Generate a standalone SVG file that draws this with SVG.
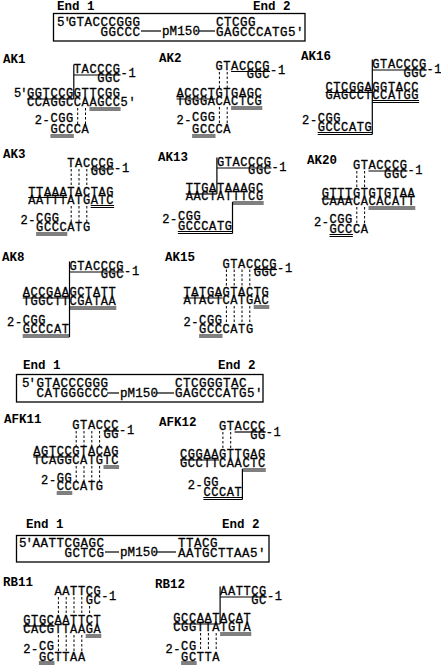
<svg xmlns="http://www.w3.org/2000/svg" width="441" height="665" viewBox="0 0 441 665">
<style>
text{font-family:"Liberation Mono","DejaVu Sans Mono",monospace;fill:#000}
.s{font-size:12px;letter-spacing:0.6px;stroke:#000;stroke-width:0.3px}
.bx{font-size:12.5px;letter-spacing:0.5px;stroke:#000;stroke-width:0.3px}
.pm{font-size:12.5px;letter-spacing:0.1px;stroke:#000;stroke-width:0.3px}
.lb{font-size:12.5px;font-weight:bold}
.p5{letter-spacing:-1px}
.u{stroke:#000;stroke-width:1.2}
.w{stroke:#000;stroke-width:1}
.d{stroke:#000;stroke-width:1;stroke-dasharray:2.5 2}
.v{stroke:#000;stroke-width:1.2}
.box{fill:none;stroke:#000;stroke-width:1.3}
</style>
<rect width="441" height="665" fill="#fff"/>

<g id="box1">
<text class="lb" x="57" y="10">End 1</text>
<text class="lb" x="253" y="10">End 2</text>
<rect class="box" x="53.5" y="13.5" width="251.5" height="27.5"/>
<text class="bx p5" x="57" y="26">5'</text>
<text class="bx" x="68.5" y="26">GTACCCGGG</text>
<text class="bx" x="100.5" y="36">GGCCC</text>
<text class="pm" x="162" y="35">pM150</text>
<text class="bx" x="216" y="26">CTCGG</text>
<text class="bx" x="216" y="36">GAGCCCATG5'</text>
<g class="connectors"><line class="u" x1="141" y1="31" x2="161" y2="31"/><line class="u" x1="199" y1="31" x2="215" y2="31"/></g>
</g>

<g id="ak1">
<text class="lb" x="3" y="63">AK1</text>
<text class="s" x="73.8" y="73">TACCCG</text>
<text class="s" x="97.2" y="81.5">GGC</text>
<text class="s" x="120.6" y="77">-1</text>
<text class="s p5" x="14" y="97">5'</text>
<text class="s" x="27" y="97">GGTCCGGTTCGG</text>
<text class="s" x="27" y="106">CCAGGCCAAGCC5'</text>
<text class="s" x="34.8" y="124">2-</text>
<text class="s" x="50.4" y="121.5">CGG</text>
<text class="s" x="50.4" y="133">GCCCA</text>
<g class="connectors">
<line class="u" x1="73.8" y1="75" x2="120.6" y2="75"/>
<line class="u" x1="27" y1="99" x2="73.8" y2="99"/>
<line class="w" x1="89.4" y1="108" x2="120.6" y2="108"/><line class="w" x1="89.4" y1="110" x2="120.6" y2="110"/>
<line class="w" x1="50.4" y1="135" x2="73.8" y2="135"/><line class="w" x1="50.4" y1="137" x2="73.8" y2="137"/>
<line class="v" x1="73.8" y1="64.5" x2="73.8" y2="99"/>
<line class="d" x1="77.7" y1="108" x2="77.7" y2="125"/><line class="d" x1="85.5" y1="108" x2="85.5" y2="125"/>
</g>
</g>

<g id="ak2">
<text class="lb" x="159" y="62">AK2</text>
<text class="s" x="215.5" y="69.5">GTACCCG</text>
<text class="s" x="246.7" y="77.5">GGC</text>
<text class="s" x="270.1" y="73.5">-1</text>
<text class="s" x="176.5" y="97">ACCCTGTGAGC</text>
<text class="s" x="176.5" y="105">TGGGACACTCG</text>
<text class="s" x="176.5" y="124">2-</text>
<text class="s" x="192.1" y="121">CGG</text>
<text class="s" x="192.1" y="133">GCCCA</text>
<g class="connectors">
<line class="u" x1="231.1" y1="71.5" x2="270.1" y2="71.5"/>
<line class="u" x1="176.5" y1="99" x2="215.5" y2="99"/>
<line class="w" x1="231.1" y1="107" x2="262.3" y2="107"/><line class="w" x1="231.1" y1="109" x2="262.3" y2="109"/>
<line class="w" x1="192.1" y1="135" x2="215.5" y2="135"/><line class="w" x1="192.1" y1="137" x2="215.5" y2="137"/>
<line class="d" x1="219.4" y1="72" x2="219.4" y2="88"/><line class="d" x1="227.2" y1="72" x2="227.2" y2="88"/>
<line class="d" x1="219.4" y1="107" x2="219.4" y2="124"/><line class="d" x1="227.2" y1="107" x2="227.2" y2="124"/>
</g>
</g>

<g id="ak16">
<text class="lb" x="301" y="60">AK16</text>
<text class="s" x="372.3" y="68">GTACCCG</text>
<text class="s" x="403.5" y="76.5">GGC</text>
<text class="s" x="426.5" y="72.5">-1</text>
<text class="s" x="325.5" y="90.5">CTCGGAGGTACC</text>
<text class="s" x="325.5" y="98.5">GAGCCTCCATGG</text>
<text class="s" x="302.1" y="124">2-</text>
<text class="s" x="317.7" y="121.5">CGG</text>
<text class="s" x="317.7" y="130.5">GCCCATG</text>
<g class="connectors">
<line class="u" x1="372.3" y1="70" x2="426.9" y2="70"/>
<line class="u" x1="325.5" y1="92.5" x2="372.3" y2="92.5"/>
<line class="w" x1="372.3" y1="100.5" x2="419.1" y2="100.5"/><line class="w" x1="372.3" y1="102.5" x2="419.1" y2="102.5"/>
<line class="w" x1="317.7" y1="132.5" x2="372.3" y2="132.5"/><line class="w" x1="317.7" y1="134.5" x2="372.3" y2="134.5"/>
<line class="v" x1="372.3" y1="59.5" x2="372.3" y2="134.5"/>
</g>
</g>

<g id="ak3">
<text class="lb" x="3" y="158">AK3</text>
<text class="s" x="67.3" y="167">TACCCG</text>
<text class="s" x="90.7" y="175">GGC</text>
<text class="s" x="114.1" y="171.5">-1</text>
<text class="s" x="28.3" y="195.5">TTAAATACTAG</text>
<text class="s" x="28.3" y="203.5">AATTTATGATC</text>
<text class="s" x="20.5" y="224">2-</text>
<text class="s" x="36.1" y="221.5">CGG</text>
<text class="s" x="36.1" y="231">GCCCATG</text>
<g class="connectors">
<line class="u" x1="90.7" y1="169" x2="114.1" y2="169"/>
<line class="u" x1="28.3" y1="197.5" x2="67.3" y2="197.5"/>
<line class="w" x1="90.7" y1="205.5" x2="114.1" y2="205.5"/><line class="w" x1="90.7" y1="207.5" x2="114.1" y2="207.5"/>
<line class="w" x1="36.1" y1="233" x2="67.3" y2="233"/><line class="w" x1="36.1" y1="235" x2="67.3" y2="235"/>
<line class="d" x1="71.2" y1="169" x2="71.2" y2="187"/><line class="d" x1="79" y1="169" x2="79" y2="187"/><line class="d" x1="86.8" y1="169" x2="86.8" y2="187"/>
<line class="d" x1="71.2" y1="206" x2="71.2" y2="222"/><line class="d" x1="79" y1="206" x2="79" y2="222"/><line class="d" x1="86.8" y1="206" x2="86.8" y2="222"/>
</g>
</g>

<g id="ak13">
<text class="lb" x="158" y="161">AK13</text>
<text class="s" x="216.9" y="166">GTACCCG</text>
<text class="s" x="248.1" y="174">GGC</text>
<text class="s" x="271.5" y="170.5">-1</text>
<text class="s" x="185.7" y="192">TTGATAAAGC</text>
<text class="s" x="185.7" y="200">AACTATTTCG</text>
<text class="s" x="162.3" y="223">2-</text>
<text class="s" x="177.9" y="220">CGG</text>
<text class="s" x="177.9" y="229.5">GCCCATG</text>
<g class="connectors">
<line class="u" x1="216.9" y1="168" x2="271.5" y2="168"/>
<line class="u" x1="185.7" y1="194" x2="216.9" y2="194"/>
<line class="w" x1="232.5" y1="202" x2="263.7" y2="202"/><line class="w" x1="232.5" y1="204" x2="263.7" y2="204"/>
<line class="w" x1="177.9" y1="231.5" x2="232.5" y2="231.5"/><line class="w" x1="177.9" y1="233.5" x2="232.5" y2="233.5"/>
<line class="v" x1="216.9" y1="157.5" x2="216.9" y2="194"/>
<line class="v" x1="232.5" y1="202" x2="232.5" y2="233.5"/>
</g>
</g>

<g id="ak20">
<text class="lb" x="307" y="164">AK20</text>
<text class="s" x="352.9" y="169">GTACCCG</text>
<text class="s" x="384.1" y="177.5">GGC</text>
<text class="s" x="407.5" y="174">-1</text>
<text class="s" x="321.7" y="197">GTTTGTGTGTAA</text>
<text class="s" x="321.7" y="205">CAAACACACATT</text>
<text class="s" x="313.9" y="225.5">2-</text>
<text class="s" x="329.5" y="222.5">CGG</text>
<text class="s" x="329.5" y="232.5">GCCCA</text>
<g class="connectors">
<line class="u" x1="368.5" y1="171" x2="407.5" y2="171"/>
<line class="u" x1="321.7" y1="199" x2="352.9" y2="199"/>
<line class="w" x1="368.5" y1="207" x2="415.3" y2="207"/><line class="w" x1="368.5" y1="209" x2="415.3" y2="209"/>
<line class="w" x1="329.5" y1="234.5" x2="352.9" y2="234.5"/><line class="w" x1="329.5" y1="236.5" x2="352.9" y2="236.5"/>
<line class="d" x1="356.8" y1="171" x2="356.8" y2="189"/><line class="d" x1="364.6" y1="171" x2="364.6" y2="189"/>
<line class="d" x1="356.8" y1="207" x2="356.8" y2="224"/><line class="d" x1="364.6" y1="207" x2="364.6" y2="224"/>
</g>
</g>

<g id="ak8">
<text class="lb" x="2" y="261">AK8</text>
<text class="s" x="69.5" y="270">GTACCCG</text>
<text class="s" x="100.7" y="278">GGC</text>
<text class="s" x="124.1" y="274.5">-1</text>
<text class="s" x="22.7" y="296">ACCGAAGCTATT</text>
<text class="s" x="22.7" y="305">TGGCTTCGATAA</text>
<text class="s" x="7.1" y="326">2-</text>
<text class="s" x="22.7" y="323.5">CGG</text>
<text class="s" x="22.7" y="333">GCCCAT</text>
<g class="connectors">
<line class="u" x1="69.5" y1="272" x2="124.1" y2="272"/>
<line class="u" x1="22.7" y1="298" x2="69.5" y2="298"/>
<line class="w" x1="69.5" y1="307" x2="116.3" y2="307"/><line class="w" x1="69.5" y1="309" x2="116.3" y2="309"/>
<line class="w" x1="22.7" y1="335" x2="69.5" y2="335"/><line class="w" x1="22.7" y1="337" x2="69.5" y2="337"/>
<line class="v" x1="69.5" y1="261.5" x2="69.5" y2="337"/>
</g>
</g>

<g id="ak15">
<text class="lb" x="165" y="261">AK15</text>
<text class="s" x="222.5" y="267.5">GTACCCG</text>
<text class="s" x="253.7" y="276">GGC</text>
<text class="s" x="277.1" y="272">-1</text>
<text class="s" x="183.5" y="296">TATGAGTACTG</text>
<text class="s" x="183.5" y="304">ATACTCATGAC</text>
<text class="s" x="183.5" y="326">2-</text>
<text class="s" x="199.1" y="323.5">CGG</text>
<text class="s" x="199.1" y="333">GCCCATG</text>
<g class="connectors">
<line class="u" x1="253.7" y1="269.5" x2="277.1" y2="269.5"/>
<line class="u" x1="183.5" y1="298" x2="222.5" y2="298"/>
<line class="w" x1="253.7" y1="306" x2="269.3" y2="306"/><line class="w" x1="253.7" y1="308" x2="269.3" y2="308"/>
<line class="w" x1="199.1" y1="335" x2="222.5" y2="335"/><line class="w" x1="199.1" y1="337" x2="222.5" y2="337"/>
<line class="d" x1="226.4" y1="269.5" x2="226.4" y2="287"/><line class="d" x1="234.2" y1="269.5" x2="234.2" y2="287"/><line class="d" x1="242" y1="269.5" x2="242" y2="287"/><line class="d" x1="249.8" y1="269.5" x2="249.8" y2="287"/>
<line class="d" x1="226.4" y1="306" x2="226.4" y2="324"/><line class="d" x1="234.2" y1="306" x2="234.2" y2="324"/><line class="d" x1="242" y1="306" x2="242" y2="324"/><line class="d" x1="249.8" y1="306" x2="249.8" y2="324"/>
</g>
</g>

<g id="box2">
<text class="lb" x="23" y="369">End 1</text>
<text class="lb" x="218" y="369">End 2</text>
<rect class="box" x="16.5" y="374.5" width="246.5" height="27.5"/>
<text class="bx p5" x="22" y="387">5'</text>
<text class="bx" x="36.5" y="387">GTACCCGGG</text>
<text class="bx" x="36.5" y="397">CATGGGCCC</text>
<text class="pm" x="120" y="397">pM150</text>
<text class="bx" x="175" y="387">CTCGGGTAC</text>
<text class="bx" x="175" y="397">GAGCCCATG5'</text>
<g class="connectors"><line class="u" x1="107" y1="393" x2="119" y2="393"/><line class="u" x1="157" y1="393" x2="174" y2="393"/></g>
</g>

<g id="afk11">
<text class="lb" x="4" y="423">AFK11</text>
<text class="s" x="72.3" y="429">GTACCC</text>
<text class="s" x="103.5" y="437.5">GG</text>
<text class="s" x="119.1" y="434">-1</text>
<text class="s" x="33.3" y="455">AGTCCGTACAG</text>
<text class="s" x="33.3" y="464">TCAGGCATGTC</text>
<text class="s" x="41.1" y="484">2-</text>
<text class="s" x="56.7" y="481.5">GG</text>
<text class="s" x="56.7" y="490">CCCATG</text>
<g class="connectors">
<line class="u" x1="103.5" y1="431" x2="119.1" y2="431"/>
<line class="u" x1="33.3" y1="457" x2="72.3" y2="457"/>
<line class="w" x1="103.5" y1="466" x2="119.1" y2="466"/><line class="w" x1="103.5" y1="468" x2="119.1" y2="468"/>
<line class="w" x1="56.7" y1="492" x2="72.3" y2="492"/><line class="w" x1="56.7" y1="494" x2="72.3" y2="494"/>
<line class="d" x1="76.2" y1="431" x2="76.2" y2="446"/><line class="d" x1="84" y1="431" x2="84" y2="446"/><line class="d" x1="91.8" y1="431" x2="91.8" y2="446"/><line class="d" x1="99.6" y1="431" x2="99.6" y2="446"/>
<line class="d" x1="76.2" y1="466" x2="76.2" y2="482"/><line class="d" x1="84" y1="466" x2="84" y2="482"/><line class="d" x1="91.8" y1="466" x2="91.8" y2="482"/><line class="d" x1="99.6" y1="466" x2="99.6" y2="482"/>
</g>
</g>

<g id="afk12">
<text class="lb" x="159" y="426">AFK12</text>
<text class="s" x="219" y="430">GTACCC</text>
<text class="s" x="250.2" y="439">GG</text>
<text class="s" x="265.8" y="435.5">-1</text>
<text class="s" x="180" y="458">CGGAAGTTGAG</text>
<text class="s" x="180" y="467">GCCTTCAACTC</text>
<text class="s" x="187.8" y="488.5">2-</text>
<text class="s" x="203.4" y="486">GG</text>
<text class="s" x="203.4" y="495.5">CCCAT</text>
<g class="connectors">
<line class="u" x1="234.6" y1="432" x2="265.8" y2="432"/>
<line class="u" x1="180" y1="460" x2="219" y2="460"/>
<line class="w" x1="242.4" y1="469" x2="265.8" y2="469"/><line class="w" x1="242.4" y1="471" x2="265.8" y2="471"/>
<line class="w" x1="203.4" y1="497.5" x2="242.4" y2="497.5"/><line class="w" x1="203.4" y1="499.5" x2="242.4" y2="499.5"/>
<line class="d" x1="222.9" y1="432" x2="222.9" y2="449"/><line class="d" x1="230.7" y1="432" x2="230.7" y2="449"/>
<line class="v" x1="242.4" y1="469" x2="242.4" y2="499.5"/>
</g>
</g>

<g id="box3">
<text class="lb" x="26" y="528">End 1</text>
<text class="lb" x="222" y="528">End 2</text>
<rect class="box" x="16.5" y="535.5" width="252.5" height="26.5"/>
<text class="bx p5" x="19" y="547">5'</text>
<text class="bx" x="32.5" y="547">AATTCGAGC</text>
<text class="bx" x="64.5" y="557">GCTCG</text>
<text class="pm" x="120" y="556">pM150</text>
<text class="bx" x="178" y="547">TTACG</text>
<text class="bx" x="178" y="557">AATGCTTAA5'</text>
<g class="connectors"><line class="u" x1="105" y1="552" x2="119" y2="552"/><line class="u" x1="157" y1="552" x2="176" y2="552"/></g>
</g>

<g id="rb11">
<text class="lb" x="3" y="586">RB11</text>
<text class="s" x="54.5" y="595">AATTCG</text>
<text class="s" x="85.7" y="604">GC</text>
<text class="s" x="101.3" y="600">-1</text>
<text class="s" x="23.3" y="624">GTGCAATTCT</text>
<text class="s" x="23.3" y="633">CACGTTAAGA</text>
<text class="s" x="23.3" y="653">2-</text>
<text class="s" x="38.9" y="650">CG</text>
<text class="s" x="38.9" y="660.5">GCTTAA</text>
<g class="connectors">
<line class="u" x1="23.3" y1="626" x2="54.5" y2="626"/>
<line class="w" x1="85.7" y1="635" x2="101.3" y2="635"/><line class="w" x1="85.7" y1="637" x2="101.3" y2="637"/>
<line class="w" x1="38.9" y1="662" x2="54.5" y2="662"/><line class="w" x1="38.9" y1="664" x2="54.5" y2="664"/>
<line class="d" x1="58.4" y1="597" x2="58.4" y2="614"/><line class="d" x1="66.2" y1="597" x2="66.2" y2="614"/><line class="d" x1="74" y1="597" x2="74" y2="614"/><line class="d" x1="81.8" y1="597" x2="81.8" y2="614"/><line class="d" x1="89.6" y1="606" x2="89.6" y2="614"/>
<line class="d" x1="58.4" y1="635" x2="58.4" y2="651"/><line class="d" x1="66.2" y1="635" x2="66.2" y2="651"/><line class="d" x1="74" y1="635" x2="74" y2="651"/><line class="d" x1="81.8" y1="635" x2="81.8" y2="651"/>
</g>
</g>

<g id="rb12">
<text class="lb" x="155" y="588">RB12</text>
<text class="s" x="220.1" y="595">AATTCG</text>
<text class="s" x="251.3" y="604">GC</text>
<text class="s" x="266.9" y="600">-1</text>
<text class="s" x="173.3" y="622">GCCAATACAT</text>
<text class="s" x="173.3" y="631">CGGTTATGTA</text>
<text class="s" x="165.5" y="653">2-</text>
<text class="s" x="181.1" y="650">CG</text>
<text class="s" x="181.1" y="660.5">GCTTA</text>
<g class="connectors">
<line class="u" x1="220.1" y1="597" x2="266.9" y2="597"/>
<line class="u" x1="173.3" y1="624" x2="220.1" y2="624"/>
<line class="w" x1="220.1" y1="633" x2="251.3" y2="633"/><line class="w" x1="220.1" y1="635" x2="251.3" y2="635"/>
<line class="w" x1="181.1" y1="662" x2="196.7" y2="662"/><line class="w" x1="181.1" y1="664" x2="196.7" y2="664"/>
<line class="v" x1="220.1" y1="586.5" x2="220.1" y2="624"/>
<line class="d" x1="200.6" y1="633" x2="200.6" y2="651"/><line class="d" x1="208.4" y1="633" x2="208.4" y2="651"/><line class="d" x1="216.2" y1="633" x2="216.2" y2="651"/>
</g>
</g>
</svg>
